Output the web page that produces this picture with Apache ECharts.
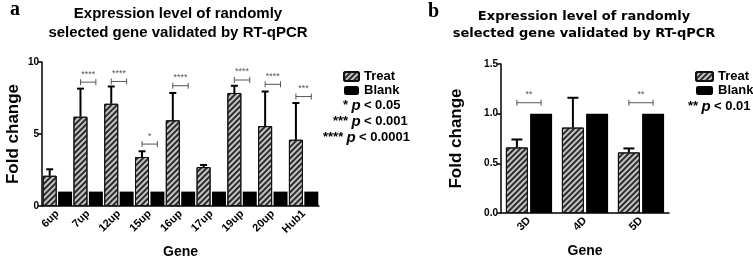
<!DOCTYPE html>
<html>
<head>
<meta charset="utf-8">
<script src="https://cdn.jsdelivr.net/npm/echarts@6/dist/echarts.min.js"></script>
<style>
  body { margin: 0; background: #fff; }
  #chart { width: 753px; height: 260px; }
</style>
</head>
<body>
<div id="chart"></div>
<script>
// panel a
const genesA = ['6up', '7up', '12up', '15up', '16up', '17up', '19up', '20up', 'Hub1'];
const treatA = [2.1, 6.2, 7.1, 3.4, 5.95, 2.7, 7.85, 5.55, 4.6];
const treatErrA = [2.55, 8.15, 8.3, 3.8, 7.85, 2.85, 8.35, 7.95, 7.15];
const blankA = [1, 1, 1, 1, 1, 1, 1, 1, 1];
const sigA = [[1, 8.6, '****'], [2, 8.65, '****'], [3, 4.3, '*'], [4, 8.35, '****'], [6, 8.75, '****'], [7, 8.45, '****'], [8, 7.6, '***']];

// panel b
const genesB = ['3D', '4D', '5D'];
const treatB = [0.66, 0.86, 0.61];
const treatErrB = [0.74, 1.16, 0.65];
const blankB = [1, 1, 1];
const sigB = [[0, 1.11, '**'], [2, 1.11, '**']];

const FONT = 'Liberation Sans';
const hatch = {
  color: '#c4c4c4',
  borderColor: '#111',
  borderWidth: 1,
  decal: {
    symbol: 'rect',
    symbolSize: 1,
    dashArrayX: [[1, 0]],
    dashArrayY: [1.3, 2],
    rotation: -Math.PI / 4,
    color: '#2b2b2b'
  }
};

function errBars(offset, cap) {
  return function (params, api) {
    const band = api.size([1, 0])[0];
    const c0 = api.coord([api.value(0), api.value(1)]);
    const c1 = api.coord([api.value(0), api.value(2)]);
    const x = c0[0] + band * offset;
    return {
      type: 'group',
      children: [
        { type: 'line', shape: { x1: x, y1: c0[1], x2: x, y2: c1[1] }, style: { stroke: '#000', lineWidth: 2 } },
        { type: 'line', shape: { x1: x - cap / 2, y1: c1[1], x2: x + cap / 2, y2: c1[1] }, style: { stroke: '#000', lineWidth: 2 } }
      ]
    };
  };
}

function brackets(offset) {
  return function (params, api) {
    const band = api.size([1, 0])[0];
    const c = api.coord([api.value(0), api.value(1)]);
    const x1 = c[0] - band * offset;
    const x2 = c[0] + band * offset;
    const y = c[1];
    return {
      type: 'group',
      children: [
        { type: 'line', shape: { x1: x1, y1: y, x2: x2, y2: y }, style: { stroke: '#555', lineWidth: 1 } },
        { type: 'line', shape: { x1: x1, y1: y - 3, x2: x1, y2: y + 3 }, style: { stroke: '#555', lineWidth: 1 } },
        { type: 'line', shape: { x1: x2, y1: y - 3, x2: x2, y2: y + 3 }, style: { stroke: '#555', lineWidth: 1 } },
        { type: 'text', x: (x1 + x2) / 2, y: y - 8, style: { text: api.value(2), fill: '#555', font: '9px ' + FONT, align: 'center', verticalAlign: 'middle' } }
      ]
    };
  };
}

function yAxis(grid, min, max, interval, digits, gap) {
  return {
    type: 'value', gridIndex: grid, min: min, max: max, interval: interval,
    name: 'Fold change', nameLocation: 'middle', nameGap: gap,
    nameTextStyle: { fontFamily: FONT, fontWeight: 'bold', fontSize: 17, color: '#000' },
    axisLine: { show: true, lineStyle: { color: '#000', width: 1.5 } },
    axisTick: { show: true, length: 4, lineStyle: { color: '#000', width: 1.5 } },
    axisLabel: { fontFamily: FONT, fontWeight: 'bold', fontSize: 10, color: '#000', margin: 3,
      formatter: v => v.toFixed(digits) },
    splitLine: { show: false }
  };
}

function xAxis(grid, cats, gap) {
  return {
    type: 'category', gridIndex: grid, data: cats,
    name: 'Gene', nameLocation: 'middle', nameGap: gap,
    nameTextStyle: { fontFamily: FONT, fontWeight: 'bold', fontSize: 14, color: '#000' },
    axisLine: { lineStyle: { color: '#000', width: 1.5 } },
    axisTick: { alignWithLabel: true, length: 4, lineStyle: { color: '#000', width: 1.5 } },
    axisLabel: { rotate: 45, fontFamily: FONT, fontWeight: 'bold', fontSize: 11, color: '#000', margin: 6, interval: 0 }
  };
}

function pText(x, y, stars, val) {
  return {
    type: 'text', left: x, top: y,
    style: {
      text: '{s|' + stars + '} {p|p} {s|< ' + val + '}',
      rich: {
        s: { font: 'bold 13px ' + FONT, fill: '#000' },
        p: { font: 'italic bold 15px ' + FONT, fill: '#000' }
      }
    }
  };
}

const legendText = { fontFamily: FONT, fontWeight: 'bold', fontSize: 13, color: '#000' };

const chart = echarts.init(document.getElementById('chart'));
chart.setOption({
  backgroundColor: '#fff',
  animation: false,
  grid: [
    { left: 42, top: 62, width: 277, height: 144, outerBoundsMode: 'none' },
    { left: 501, top: 64, width: 168, height: 149, outerBoundsMode: 'none' }
  ],
  xAxis: [xAxis(0, genesA, 39), xAxis(1, genesB, 31)],
  yAxis: [yAxis(0, 0, 10, 5, 0, 20), yAxis(1, 0, 1.5, 0.5, 1, 36)],
  legend: [
    { left: 338, top: 65, orient: 'vertical', itemWidth: 15, itemHeight: 9, itemGap: 1,
      textStyle: legendText, data: ['Treat', 'Blank'] },
    { left: 690, top: 65, orient: 'vertical', itemWidth: 17, itemHeight: 9, itemGap: 1,
      textStyle: legendText, data: ['Treat', 'Blank'] }
  ],
  graphic: [
    { type: 'text', left: 10, top: 0, style: { text: 'a', font: 'bold 20px Liberation Serif', fill: '#000' } },
    { type: 'text', left: 428, top: 2, style: { text: 'b', font: 'bold 20px Liberation Serif', fill: '#000' } },
    { type: 'text', x: 178, y: 4, style: { text: 'Expression level of randomly\nselected gene validated by RT-qPCR',
      font: 'bold 15px ' + FONT, lineHeight: 19, fill: '#000', align: 'center' } },
    { type: 'text', x: 584, y: 8, style: { text: 'Expression level of randomly\nselected gene validated by RT-qPCR',
      font: 'bold 13px DejaVu Sans', lineHeight: 17, fill: '#000', align: 'center' } },
    pText(343, 98, '*', '0.05'),
    pText(333, 114, '***', '0.001'),
    pText(323, 130, '****', '0.0001'),
    pText(688, 99, '**', '0.01')
  ],
  series: [
    { name: 'Treat', type: 'bar', xAxisIndex: 0, yAxisIndex: 0, data: treatA, barWidth: 14, barGap: '10%', itemStyle: hatch },
    { name: 'Blank', type: 'bar', xAxisIndex: 0, yAxisIndex: 0, data: blankA, barWidth: 14, itemStyle: { color: '#000' } },
    { type: 'custom', xAxisIndex: 0, yAxisIndex: 0, renderItem: errBars(-0.25, 7), z: 3,
      data: treatA.map((v, i) => [i, v, treatErrA[i]]) },
    { type: 'custom', xAxisIndex: 0, yAxisIndex: 0, renderItem: brackets(0.25), z: 3, data: sigA },
    { name: 'Treat', type: 'bar', xAxisIndex: 1, yAxisIndex: 1, data: treatB, barWidth: 22, barGap: '10%', itemStyle: hatch },
    { name: 'Blank', type: 'bar', xAxisIndex: 1, yAxisIndex: 1, data: blankB, barWidth: 22, itemStyle: { color: '#000' } },
    { type: 'custom', xAxisIndex: 1, yAxisIndex: 1, renderItem: errBars(-0.216, 11), z: 3,
      data: treatB.map((v, i) => [i, v, treatErrB[i]]) },
    { type: 'custom', xAxisIndex: 1, yAxisIndex: 1, renderItem: brackets(0.216), z: 3, data: sigB }
  ]
});
</script>
</body>
</html>
